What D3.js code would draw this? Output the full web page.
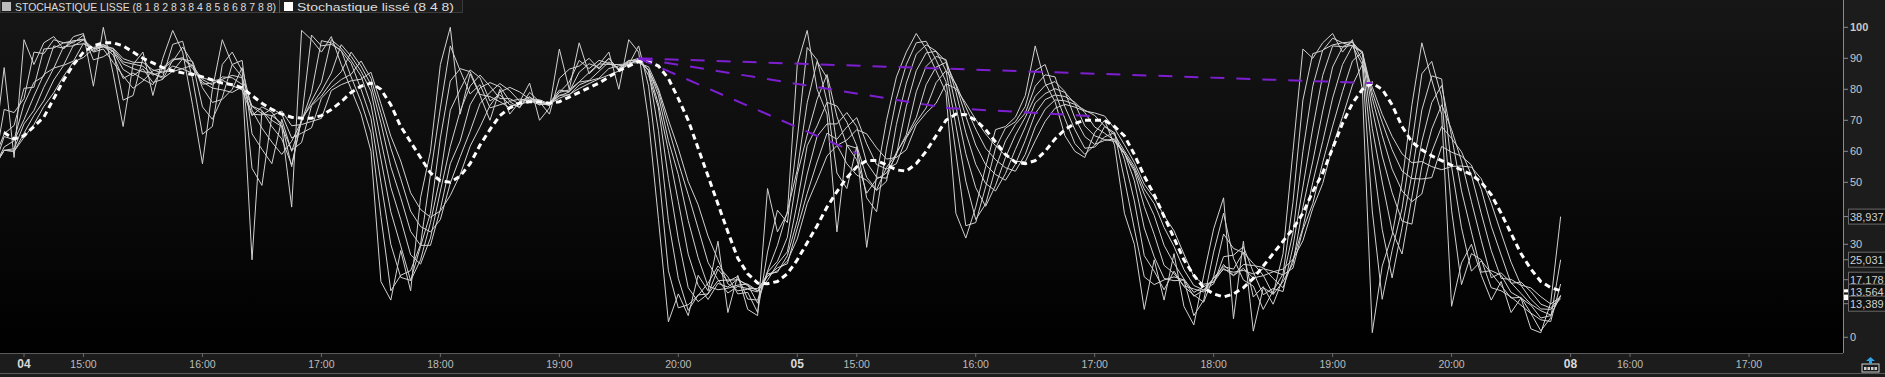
<!DOCTYPE html>
<html>
<head>
<meta charset="utf-8">
<script src="https://cdnjs.cloudflare.com/ajax/libs/d3/7.8.5/d3.min.js"></script>
<style>
  body { margin: 0; background: #000; overflow: hidden; }
  svg { display: block; font-family: "Liberation Sans", Arial, sans-serif; }
</style>
</head>
<body>
<div id="main"></div>
<script>
// 5-minute bars, index 0 = 04 14:30; the first bars sit left of the visible area
var firstBar = -7;

// raw stochastic (period 8, smoothing 1), one value per bar
var raw = [
  55, 48, 62, 50,
  60, 87, 58,
  96, 88, 95, 97, 93, 97, 98, 81, 100, 85, 68, 88, 92, 78, 90, 99, 92, 75, 56, 80, 96, 88,
  84, 25, 73, 70, 68, 42, 99, 96, 92, 97, 88, 80, 72, 60, 18, 12, 28, 15, 45, 60, 88, 100,
  72, 85, 78, 70, 80, 72, 76, 82, 70, 74, 93, 80, 95, 85, 88, 92, 80, 96, 92, 70, 38, 5,
  14, 7, 20, 15, 31, 8, 20, 9, 7, 48, 34, 40,
  88, 99, 80, 72, 34, 62, 61, 29, 52, 70, 84, 92, 98, 93, 86, 79, 40, 32, 42, 55, 67, 68,
  71, 78, 94, 82, 76, 65, 60, 58, 66, 70, 62, 40, 30, 9, 25, 12, 27, 10, 4, 20, 35, 45,
  6, 31, 2, 16, 14, 27, 60, 93, 90, 95, 98, 92, 96, 80, 1.5, 23, 33, 50, 75, 95, 83, 72,
  10, 24, 30, 20, 12, 18, 8, 12.689, 2.722, 1.472, 11.125, 38.937
];

// Stochastique lisse (8 4 8), one value per bar, from index -3
var smoothFirstBar = -3;
var smooth = [
  67, 66, 64,
  65, 68, 71, 77, 83, 88, 92, 94, 95, 95, 94, 92, 90, 88.5, 87, 86, 85.3, 84.8, 84, 83, 82,
  81.5, 80.5, 78, 75.5, 73.5, 72, 71, 70.7, 70.7, 71.5, 73.5, 76, 79, 81, 82, 80, 75, 68,
  63, 58, 53, 50.5, 50, 52, 56, 62, 67, 71.5, 74, 75.5, 76, 76, 75.5, 76, 77.5, 79, 80.5,
  82, 84, 86, 87.5, 89, 89, 87.5, 83.5, 77, 70, 61, 52, 43, 34, 25.5, 20.5, 17.5, 17.3, 18,
  20.5,
  25, 30.5, 36, 42, 47, 51.5, 55, 57, 57, 55.6, 54, 53.6, 56, 60, 65, 70, 72, 71.8, 70, 67,
  63, 59, 56.5, 56, 57, 60, 64, 67, 69, 70, 70, 70, 68, 65, 59, 52, 46, 39, 32, 25, 20, 16,
  14, 13, 14, 16, 19, 23, 27, 31, 35, 40, 47, 53, 61, 69, 75.5, 80, 82, 80, 75, 68, 63,
  60.5, 58.5, 57, 55.5, 54, 52.5, 50, 46, 40, 33.5, 27, 22, 18, 16, 15
];

var smoothing = [1, 2, 3, 4, 5, 6, 7, 8];

// trend lines drawn on the chart: [bar, value, bar, value]
var trendLines = [
  [62, 90, 136, 82],
  [62, 90, 93, 74],
  [93, 74, 108, 71.3],
  [62, 90, 84, 59.4]
];

var timeTickBars = [0, 6, 18, 30, 42, 54, 66, 78, 84, 96, 108, 120, 132, 144, 156, 162, 174];
var timeTickLabels = ["04", "15:00", "16:00", "17:00", "18:00", "19:00", "20:00", "05",
  "15:00", "16:00", "17:00", "18:00", "19:00", "20:00", "08", "16:00", "17:00"];
var dayLabels = ["04", "05", "08"];
var yTicks = [0, 30, 50, 60, 70, 80, 90, 100];

var W = 1885, H = 377;
var plotRight = 1843, plotBottom = 353;

var svg = d3.select("#main").append("svg")
  .attr("width", W)
  .attr("height", H);

var x = d3.scaleLinear().domain([0, 174]).range([24, 1749]);
var y = d3.scaleLinear().domain([0, 100]).range([337.3, 27.3]);

var defs = svg.append("defs");
var grad = defs.append("linearGradient").attr("id", "bg")
  .attr("x1", 0).attr("y1", 0).attr("x2", 0).attr("y2", 1);
grad.append("stop").attr("offset", "0%").attr("stop-color", "#161616");
grad.append("stop").attr("offset", "100%").attr("stop-color", "#000000");
defs.append("clipPath").attr("id", "clip")
  .append("rect").attr("width", plotRight).attr("height", plotBottom);

// panels
svg.append("rect").attr("width", W).attr("height", H).attr("fill", "#1c1c1c");
svg.append("rect").attr("width", plotRight).attr("height", plotBottom).attr("fill", "url(#bg)");

// moving averages of the raw stochastic
function sma(arr, k) {
  return arr.map(function(v, j) {
    var s = 0, n = 0;
    for (var m = Math.max(0, j - k + 1); m <= j; m++) { s += arr[m]; n++; }
    return s / n;
  });
}
var series = smoothing.map(function(k) { return sma(raw, k); });

function lineFrom(start) {
  return d3.line()
    .x(function(d, j) { return x(start + j); })
    .y(function(d) { return y(d); });
}

var plot = svg.append("g").attr("clip-path", "url(#clip)");

series.slice().reverse().forEach(function(s) {
  plot.append("path")
    .attr("d", lineFrom(firstBar)(s))
    .attr("fill", "none")
    .attr("stroke", "#d2d2d2")
    .attr("stroke-width", 1);
});

plot.append("path")
  .attr("d", lineFrom(smoothFirstBar)(smooth))
  .attr("fill", "none")
  .attr("stroke", "#ffffff")
  .attr("stroke-width", 3)
  .attr("stroke-dasharray", "6,4");

trendLines.forEach(function(t) {
  plot.append("line")
    .attr("x1", x(t[0])).attr("y1", y(t[1]))
    .attr("x2", x(t[2])).attr("y2", y(t[3]))
    .attr("stroke", "#7d1fd0")
    .attr("stroke-width", 2)
    .attr("stroke-dasharray", "14,12");
});

// legend
var leg = svg.append("g");
leg.append("rect").attr("x", 0.5).attr("y", -0.5).attr("width", 462).attr("height", 13)
  .attr("fill", "#1c1c1c").attr("stroke", "#3a3a3a");
leg.append("rect").attr("x", 2).attr("y", 2).attr("width", 9).attr("height", 9).attr("fill", "#bdbdbd");
leg.append("text").attr("x", 15).attr("y", 10.5).attr("font-size", 11).attr("fill", "#dcdcdc")
  .attr("textLength", 261).attr("lengthAdjust", "spacingAndGlyphs")
  .text("STOCHASTIQUE LISSE (8 1 8 2 8 3 8 4 8 5 8 6 8 7 8 8)");
leg.append("line").attr("x1", 279.5).attr("x2", 279.5).attr("y1", 0).attr("y2", 13).attr("stroke", "#555");
leg.append("rect").attr("x", 284).attr("y", 2).attr("width", 9).attr("height", 9).attr("fill", "#ffffff");
leg.append("text").attr("x", 297).attr("y", 10.5).attr("font-size", 11).attr("fill", "#dcdcdc")
  .attr("textLength", 157).attr("lengthAdjust", "spacingAndGlyphs")
  .text("Stochastique liss\u00e9 (8 4 8)");

// right axis
var ax = svg.append("g");
ax.append("line").attr("x1", plotRight + 0.5).attr("x2", plotRight + 0.5)
  .attr("y1", 0).attr("y2", plotBottom).attr("stroke", "#8a8a8a");
yTicks.forEach(function(t) {
  ax.append("line").attr("x1", plotRight).attr("x2", plotRight + 5)
    .attr("y1", y(t)).attr("y2", y(t)).attr("stroke", "#8a8a8a");
  ax.append("text").attr("x", plotRight + 7).attr("y", y(t) + 4)
    .attr("font-size", 11)
    .attr("font-weight", t === 100 ? "bold" : "normal")
    .attr("fill", "#c8c8c8").text(t);
});

// last value labels
var fmt = d3.format(".3f");
var lastVals = series.slice(0, 5).map(function(s) { return s[s.length - 1]; });
var labs = lastVals.map(function(v) { return { v: v, y: y(v) }; });
labs.sort(function(a, b) { return a.y - b.y; });
// spread overlapping labels around their group centre
var groups = [];
labs.forEach(function(l) {
  var g = groups[groups.length - 1];
  if (g && l.y - (g.c + (g.items.length - 1) * 12) < 12) {
    g.items.push(l);
    g.c = d3.mean(g.items, function(d) { return d.y; }) - (g.items.length - 1) * 6;
  } else {
    groups.push({ items: [l], c: l.y });
  }
});
groups.forEach(function(g) {
  g.items.forEach(function(l, j) { l.ly = g.c + j * 12; });
});
labs.forEach(function(l) {
  ax.append("line").attr("x1", plotRight).attr("x2", plotRight + 5)
    .attr("y1", l.ly).attr("y2", l.ly).attr("stroke", "#8a8a8a");
  ax.append("rect").attr("x", plotRight + 5.5).attr("y", l.ly - 7.5)
    .attr("width", 40).attr("height", 15)
    .attr("fill", "#121212").attr("stroke", "#6a6a6a");
  ax.append("text").attr("x", plotRight + 7).attr("y", l.ly + 4)
    .attr("font-size", 11).attr("fill", "#d0d0d0")
    .text(fmt(l.v).replace(".", ","));
});
[series[5], series[6], smooth].forEach(function(s) {
  ax.append("rect").attr("x", plotRight + 1).attr("y", y(s[s.length - 1]) - 1.5)
    .attr("width", 4).attr("height", 3).attr("fill", "#fff");
});

// time axis
var tx = svg.append("g");
tx.append("line").attr("x1", 0).attr("x2", plotRight).attr("y1", plotBottom + 0.5).attr("y2", plotBottom + 0.5)
  .attr("stroke", "#5a5a5a");
tx.append("line").attr("x1", 0).attr("x2", W).attr("y1", 373.5).attr("y2", 373.5).attr("stroke", "#5a5a5a");
timeTickBars.forEach(function(b, j) {
  var lab = timeTickLabels[j];
  var isDay = dayLabels.indexOf(lab) >= 0;
  tx.append("line").attr("x1", x(b)).attr("x2", x(b)).attr("y1", plotBottom).attr("y2", plotBottom + 4)
    .attr("stroke", "#6a6a6a");
  tx.append("text").attr("x", x(b)).attr("y", 368)
    .attr("text-anchor", "middle")
    .attr("font-size", isDay ? 12 : 10.5)
    .attr("font-weight", isDay ? "bold" : "normal")
    .attr("fill", isDay ? "#d8d8d8" : "#bdbdbd")
    .text(lab);
});

// small icon in the bottom right corner
var ic = svg.append("g").attr("transform", "translate(1862,357)");
ic.append("rect").attr("x", 0).attr("y", 7).attr("width", 17).attr("height", 8)
  .attr("fill", "none").attr("stroke", "#cfcfcf");
ic.selectAll(".k").data([0, 1, 2, 3]).enter().append("rect")
  .attr("x", function(d) { return 2 + d * 3.5; }).attr("y", 10).attr("width", 2.5).attr("height", 3)
  .attr("fill", "#cfcfcf");
ic.append("path").attr("d", "M8.5,0 L13,4 L10,4 L10,7 L7,7 L7,4 L4,4 Z").attr("fill", "#2fa4e7");
</script>
</body>
</html>
